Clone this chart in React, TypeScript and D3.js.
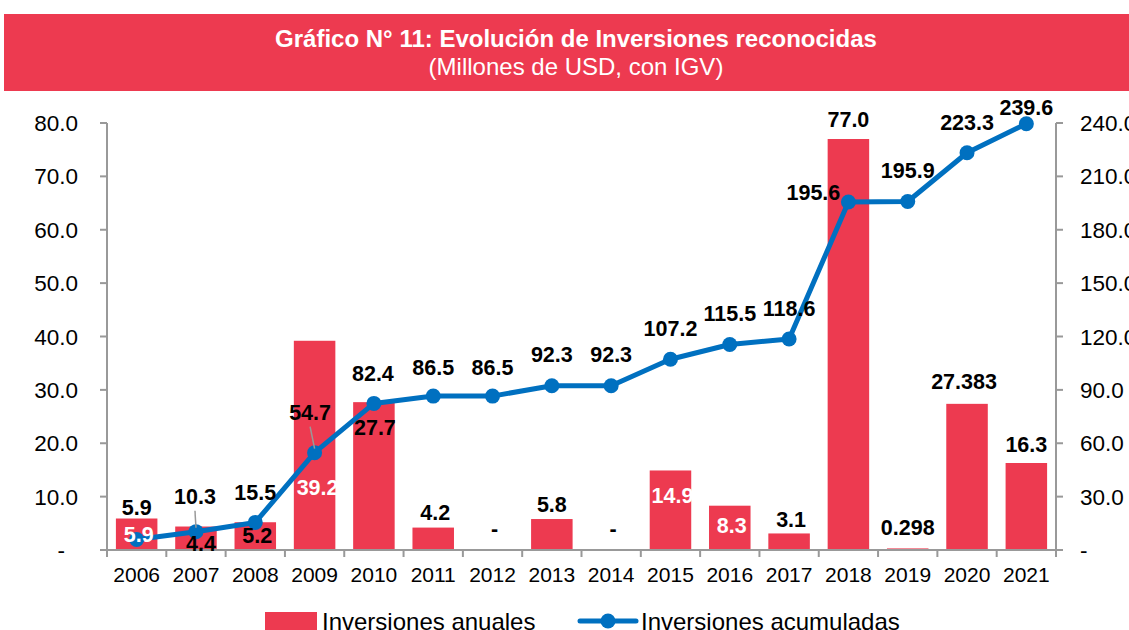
import React from 'react';
import * as d3 from 'd3';

const years = ['2006', '2007', '2008', '2009', '2010', '2011', '2012', '2013', '2014', '2015', '2016', '2017', '2018', '2019', '2020', '2021'];
const annual = [5.9, 4.4, 5.2, 39.2, 27.7, 4.2, 0, 5.8, 0, 14.9, 8.3, 3.1, 77.0, 0.298, 27.383, 16.3];
const cumulative = [5.9, 10.3, 15.5, 54.7, 82.4, 86.5, 86.5, 92.3, 92.3, 107.2, 115.5, 118.6, 195.6, 195.9, 223.3, 239.6];
const leftTicks = [0, 10, 20, 30, 40, 50, 60, 70, 80];
const rightTicks = [0, 30, 60, 90, 120, 150, 180, 210, 240];

// label nudges (hand placed in the original)
const barLabelDy = [-11.5, 16.5, 13, 147, 25, -15, -22, -15, -22, 25, 20, -13.5, -20, -21, -22, -18.5];
const barLabelDx = [0, 5, 2, 3, 1, 2, 2, 0, 2, 2, 2, 2, 0, 0, -3, 0];
const barLabelWhite = [false, false, false, true, false, false, false, false, false, true, true, false, false, false, false, false];
const lineLabelDy = [-5.5, -35, -30, -40, -30, -29, -29, -31, -31, -31, -31, -30, -9, -31, -30, -16];
const lineLabelDx = [2, -1, 0, -4.5, -1, 0, 0, 0, 0, 0, 0, 0, -35, 0, 0, 0];
const lineLabelWhite = [true, false, false, false, false, false, false, false, false, false, false, false, false, false, false, false];
const leader = [false, true, false, true, false, false, false, false, false, false, false, false, false, false, false, false];

const RED = '#ED3A50';
const BLUE = '#0070C0';
const AXIS = '#999999';
const FONT = 'Liberation Sans, Arial, sans-serif';

const width = 1129;
const height = 630;
const margin = { top: 123, bottom: 80, left: 107, right: 73 };

const fmtBar = (v: number) => (v === 0 ? '-' : Math.round(v * 10) / 10 === v ? v.toFixed(1) : String(v));
const fmtTick = (v: number) => (v === 0 ? '-' : v.toFixed(1));

const App = () => {
  const x = d3.scaleBand<string>()
    .domain(years)
    .range([margin.left, width - margin.right])
    .paddingInner(0.3)
    .paddingOuter(0.15);

  const band = (width - margin.left - margin.right) / years.length;

  const yL = d3.scaleLinear().domain([0, 80]).range([height - margin.bottom, margin.top]);
  const yR = d3.scaleLinear().domain([0, 240]).range([height - margin.bottom, margin.top]);

  const cx = (i: number) => (x(years[i]) as number) + x.bandwidth() / 2;

  const line = d3.line<number>()
    .x((_, i) => cx(i))
    .y(d => yR(d));

  const y0 = yL(0);
  const xLeft = margin.left;
  const xRight = width - margin.right;

  return (
    <svg width={width} height={height} style={{ position: 'absolute', left: 0, top: 0, background: '#fff' }} fontFamily={FONT}>
      {/* title banner */}
      <rect x={4} y={14} width={width - 4} height={77} fill={RED} />
      <text x={576} y={47} textAnchor="middle" fontSize={24} fontWeight="bold" fill="#fff">
        Gráfico N° 11: Evolución de Inversiones reconocidas
      </text>
      <text x={576} y={75} textAnchor="middle" fontSize={24} fill="#fff">
        (Millones de USD, con IGV)
      </text>

      {/* bars */}
      {annual.map((v, i) => (
        <rect key={`b${i}`} x={x(years[i])} y={yL(v)} width={x.bandwidth()} height={y0 - yL(v)} fill={RED} />
      ))}

      {/* axes */}
      <line x1={xLeft} x2={xLeft} y1={yL(80)} y2={y0} stroke={AXIS} strokeWidth={2} />
      <line x1={xRight} x2={xRight} y1={yR(240)} y2={y0} stroke={AXIS} strokeWidth={2} />
      <line x1={xLeft} x2={xRight} y1={y0} y2={y0} stroke={AXIS} strokeWidth={2} />
      {leftTicks.map(t => (
        <g key={`lt${t}`}>
          <line x1={xLeft - 7} x2={xLeft} y1={yL(t)} y2={yL(t)} stroke={AXIS} strokeWidth={2} />
          <text x={t === 0 ? 65 : 78} y={yL(t) + 8} textAnchor="end" fontSize={22.5} fill="#000">{fmtTick(t)}</text>
        </g>
      ))}
      {rightTicks.map(t => (
        <g key={`rt${t}`}>
          <line x1={xRight} x2={xRight + 7} y1={yR(t)} y2={yR(t)} stroke={AXIS} strokeWidth={2} />
          <text x={1080} y={yR(t) + 8} textAnchor="start" fontSize={22.5} fill="#000">{fmtTick(t)}</text>
        </g>
      ))}
      {d3.range(years.length + 1).map(i => (
        <line key={`bt${i}`} x1={xLeft + i * band} x2={xLeft + i * band} y1={y0} y2={y0 + 7} stroke={AXIS} strokeWidth={2} />
      ))}
      {years.map((yr, i) => (
        <text key={`yl${i}`} x={cx(i)} y={582} textAnchor="middle" fontSize={21} fill="#000">{yr}</text>
      ))}

      {/* cumulative line */}
      <path d={line(cumulative) || ''} fill="none" stroke={BLUE} strokeWidth={5} strokeLinejoin="round" />
      {cumulative.map((v, i) => (
        <circle key={`c${i}`} cx={cx(i)} cy={yR(v)} r={7.5} fill={BLUE} />
      ))}

      {/* leader lines */}
      {cumulative.map((v, i) => leader[i] ? (
        <line key={`ld${i}`} x1={cx(i) + lineLabelDx[i]} y1={yR(v) + lineLabelDy[i] + 14} x2={cx(i)} y2={yR(v) - 4} stroke={AXIS} strokeWidth={1.5} />
      ) : null)}

      {/* bar labels */}
      {annual.map((v, i) => (
        <text key={`bl${i}`} x={cx(i) + barLabelDx[i]} y={yL(v) + barLabelDy[i] + 7.5} textAnchor="middle" fontSize={21.5} fontWeight="bold"
          fill={barLabelWhite[i] ? '#fff' : '#000'}>{fmtBar(v)}</text>
      ))}

      {/* line labels */}
      {cumulative.map((v, i) => (
        <text key={`ll${i}`} x={cx(i) + lineLabelDx[i]} y={yR(v) + lineLabelDy[i] + 7.5} textAnchor="middle" fontSize={21.5} fontWeight="bold"
          fill={lineLabelWhite[i] ? '#fff' : '#000'}>{v.toFixed(1)}</text>
      ))}

      {/* legend */}
      <rect x={265} y={612} width={52} height={19} fill={RED} />
      <text x={322} y={630} fontSize={24} fill="#000">Inversiones anuales</text>
      <line x1={580} x2={636} y1={621} y2={621} stroke={BLUE} strokeWidth={5} strokeLinecap="round" />
      <circle cx={608} cy={621} r={7.5} fill={BLUE} />
      <text x={641} y={630} fontSize={24} fill="#000">Inversiones acumuladas</text>
    </svg>
  );
};

export default App;
